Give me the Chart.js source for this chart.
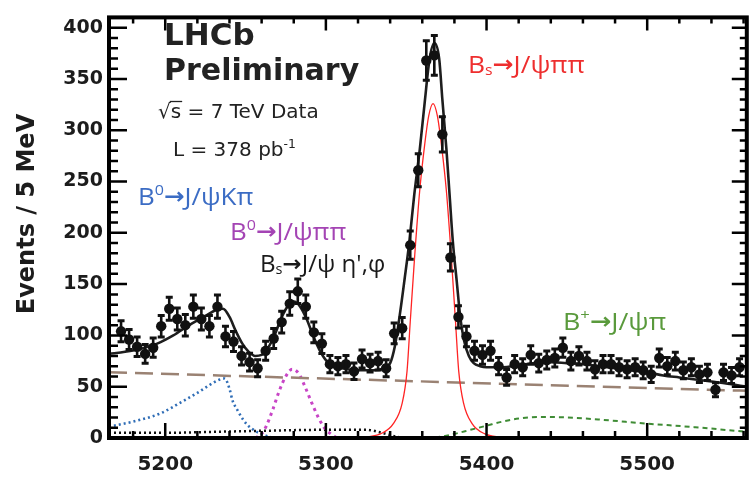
<!DOCTYPE html>
<html>
<head>
<meta charset="utf-8">
<script src="https://cdn.jsdelivr.net/npm/chart.js@4.4.1/dist/chart.umd.min.js"></script>
<style>
  html, body { margin: 0; padding: 0; background: #fff; }
</style>
</head>
<body>
<canvas id="myChart" width="752" height="480"></canvas>
<script>
// bin centres (MeV) and events per 5 MeV bin
const massBins = [
  5172.5, 5177.5, 5182.5, 5187.5, 5192.5, 5197.5, 5202.5, 5207.5, 5212.5, 5217.5,
  5222.5, 5227.5, 5232.5, 5237.5, 5242.5, 5247.5, 5252.5, 5257.5, 5262.5, 5267.5,
  5272.5, 5277.5, 5282.5, 5287.5, 5292.5, 5297.5, 5302.5, 5307.5, 5312.5, 5317.5,
  5322.5, 5327.5, 5332.5, 5337.5, 5342.5, 5347.5, 5352.5, 5357.5, 5362.5, 5367.5,
  5372.5, 5377.5, 5382.5, 5387.5, 5392.5, 5397.5, 5402.5, 5407.5, 5412.5, 5417.5,
  5422.5, 5427.5, 5432.5, 5437.5, 5442.5, 5447.5, 5452.5, 5457.5, 5462.5, 5467.5,
  5472.5, 5477.5, 5482.5, 5487.5, 5492.5, 5497.5, 5502.5, 5507.5, 5512.5, 5517.5,
  5522.5, 5527.5, 5532.5, 5537.5, 5542.5, 5547.5, 5552.5, 5557.5
];
const events = [
  104, 96, 89, 82, 88, 109, 126, 116, 110, 128,
  116, 109, 128, 99, 94, 80, 74, 68, 85, 97,
  113, 131, 143, 128, 103, 92, 72, 70, 72, 65,
  77, 73, 75, 68, 102, 107, 188, 261, 368, 373,
  296, 176, 118, 99, 85, 81, 85, 70, 59, 72,
  69, 81, 73, 76, 78, 88, 75, 80, 75, 67,
  72, 72, 69, 67, 69, 66, 62, 78, 70, 75,
  66, 69, 62, 64, 47, 64, 61, 69
];

// total fit
const fitMass = [5165, 5175, 5185, 5195, 5205, 5215, 5225, 5232, 5236, 5240, 5244, 5248, 5252, 5256, 5260,
  5264, 5268, 5272, 5276, 5280, 5284, 5288, 5292, 5296, 5300, 5305, 5310, 5320, 5330, 5336, 5340, 5343,
  5346, 5349, 5352, 5355, 5358.5, 5361.5, 5364.5, 5367.5, 5370.5, 5372.5, 5375, 5377, 5379, 5381.5,
  5383.5, 5386, 5389, 5392, 5396, 5400, 5410, 5420, 5430, 5440, 5450, 5460, 5470, 5480, 5490, 5500,
  5510, 5520, 5530, 5540, 5550, 5562];
const fitTotal = [82, 84, 87, 92, 100, 110, 119, 125, 126, 118, 104, 92, 84, 80, 81,
  88, 100, 116, 128, 133, 128, 116, 100, 86, 76, 70, 68, 66, 66, 68, 73, 90,
  120, 155, 192, 237, 282, 327, 369, 385, 370, 330, 282, 237, 192, 152,
  120, 95, 80, 73, 70, 69, 69, 71, 73, 74, 73, 72, 70, 68, 66, 64,
  61, 59, 57, 55, 53, 50];

// combinatorial background
const bkgMass = [5165, 5562];
const bkgVals = [64, 46];

// Bs -> J/psi pi pi
const bsMass = [5326, 5334, 5342, 5347.5, 5350.5, 5352.5, 5355.3, 5358.4, 5361.5, 5364, 5366.7, 5369.4,
  5371.9, 5375, 5378, 5380.7, 5382.7, 5385.7, 5391, 5399, 5408, 5420];
const bsVals = [1, 4, 14, 34, 65, 113, 178, 241, 286, 314, 326, 314, 286, 241, 178, 113, 65, 34, 14, 4, 1, 0];

// B0 -> J/psi K pi
const kpiMass = [5165, 5180, 5197, 5210, 5220, 5228, 5234, 5237, 5240, 5242, 5245, 5248, 5251, 5254, 5257, 5260, 5265, 5270];
const kpiVals = [11, 16, 24, 35, 44, 52, 57, 58, 48, 36, 27, 19, 13, 9, 6, 4, 1, 0];

// B0 -> J/psi pi pi
const b0Mass = [5256, 5260, 5263, 5267, 5271, 5275, 5279, 5283, 5287, 5291, 5295, 5299, 5303, 5307];
const b0Vals = [0, 4, 12, 28, 46, 60, 67, 63, 50, 35, 21, 10, 4, 0];

// Bs -> J/psi eta', phi
const etaMass = [5165, 5200, 5230, 5260, 5300, 5325, 5335, 5345, 5355];
const etaVals = [5, 5, 6, 7, 8, 8, 5, 1, 0];

// B+ -> J/psi pi
const bpMass = [5340, 5370, 5380, 5390, 5400, 5410, 5420, 5432, 5450, 5470, 5500, 5530, 5562];
const bpVals = [0, 1, 4, 8, 12, 16, 19, 20.5, 20, 18, 14, 10.5, 6];

const xTickLabels = [5200, 5300, 5400, 5500];
const yTickLabels = [0, 50, 100, 150, 200, 250, 300, 350, 400];

function pts(xs, ys) {
  return xs.map((x, i) => ({ x: x, y: ys[i] }));
}

function curve(label, xs, ys, color, width, dash, order) {
  return {
    label: label,
    data: pts(xs, ys),
    showLine: true,
    borderColor: color,
    borderWidth: width,
    borderDash: dash,
    pointRadius: 0,
    cubicInterpolationMode: 'monotone',
    order: order
  };
}

const ink = '#1c1c1c';

// draws text runs: 0 normal, 1 superscript, -1 subscript, 2 bold arrow
// sx stretches the run horizontally like the original picture
function drawRich(ctx, x, y, parts, size, family, color, sx) {
  ctx.save();
  ctx.translate(x, y);
  ctx.scale(sx || 1, 1);
  ctx.fillStyle = color;
  ctx.textBaseline = 'alphabetic';
  ctx.textAlign = 'left';
  let cx = 0;
  for (const [txt, mode] of parts) {
    let s = size, dy = 0, f = s + 'px ' + family;
    if (mode === 1) { s = size * 0.62; dy = -size * 0.42; f = s + 'px ' + family; }
    if (mode === -1) { s = size * 0.6; dy = size * 0.1; f = s + 'px ' + family; }
    if (mode === 2) { f = "bold " + (size * 0.95) + "px 'DejaVu Sans'"; dy = -1; }
    ctx.font = f;
    ctx.fillText(txt, cx, dy);
    cx += ctx.measureText(txt).width;
  }
  ctx.restore();
}

const framePlugin = {
  id: 'frame',
  afterDatasetsDraw(chart) {
    const ctx = chart.ctx;
    const ys = chart.scales.y;
    const meta = chart.getDatasetMeta(0);
    ctx.save();
    ctx.strokeStyle = '#111';
    meta.data.forEach((p, i) => {
      const v = events[i];
      const e = Math.sqrt(v);
      const y1 = ys.getPixelForValue(v + e), y2 = ys.getPixelForValue(v - e);
      ctx.lineWidth = 2.6;
      ctx.beginPath();
      ctx.moveTo(p.x, y1); ctx.lineTo(p.x, y2);
      ctx.stroke();
      ctx.lineWidth = 3;
      ctx.beginPath();
      ctx.moveTo(p.x - 3.5, y1); ctx.lineTo(p.x + 3.5, y1);
      ctx.moveTo(p.x - 3.5, y2); ctx.lineTo(p.x + 3.5, y2);
      ctx.stroke();
    });
    ctx.restore();
  },
  afterDraw(chart) {
    const ctx = chart.ctx;
    const a = chart.chartArea;
    const xs = chart.scales.x, ys = chart.scales.y;
    ctx.save();
    ctx.strokeStyle = '#000';
    // inward ticks
    ctx.lineWidth = 2.5;
    ctx.beginPath();
    for (let v = 0; v <= 410; v += 10) {
      const y = ys.getPixelForValue(v);
      const big = v % 50 === 0;
      ctx.moveTo(a.left, y); ctx.lineTo(a.left + (big ? 18 : 9), y);
      ctx.moveTo(a.right, y); ctx.lineTo(a.right - (big ? 15 : 7), y);
    }
    for (let m = 5180; m <= 5560; m += 20) {
      const x = xs.getPixelForValue(m);
      const big = m % 100 === 0;
      ctx.moveTo(x, a.bottom); ctx.lineTo(x, a.bottom - (big ? 15 : 7));
      ctx.moveTo(x, a.top); ctx.lineTo(x, a.top + (big ? 13 : 6));
    }
    ctx.stroke();
    // frame
    ctx.lineWidth = 4;
    ctx.strokeRect(a.left, a.top, a.right - a.left, a.bottom - a.top);

    // y title
    ctx.save();
    ctx.translate(28, 214);
    ctx.rotate(-Math.PI / 2);
    ctx.fillStyle = ink;
    ctx.font = "bold 24px 'DejaVu Sans'";
    ctx.textAlign = 'center';
    ctx.textBaseline = 'middle';
    ctx.fillText('Events / 5 MeV', 0, 0);
    ctx.restore();

    // experiment labels
    ctx.fillStyle = '#222';
    ctx.textAlign = 'left';
    ctx.textBaseline = 'alphabetic';
    ctx.font = "bold 31px 'DejaVu Sans'";
    ctx.fillText('LHCb', 164, 45);
    ctx.font = "bold 30px 'DejaVu Sans'";
    ctx.fillText('Preliminary', 164, 80);
    ctx.font = "20px 'DejaVu Sans'";
    ctx.fillText('\u221As = 7 TeV Data', 158, 118);
    const rw = ctx.measureText('\u221A').width;
    const sw = ctx.measureText('s').width;
    ctx.lineWidth = 1.3;
    ctx.strokeStyle = '#222';
    ctx.beginPath();
    ctx.moveTo(158 + rw - 1, 101.5); ctx.lineTo(158 + rw + sw + 1, 101.5);
    ctx.stroke();
    drawRich(ctx, 173, 156, [['L = 378 pb', 0], ['-1', 1]], 20, "'DejaVu Sans'", '#222', 1);

    // decay labels
    const fam = "'Open Sans'";
    drawRich(ctx, 138, 205, [['B', 0], ['0', 1], ['\u2192', 2], ['J/\u03C8K\u03C0', 0]], 24, fam, '#3b6cc4', 1.08);
    drawRich(ctx, 230, 240, [['B', 0], ['0', 1], ['\u2192', 2], ['J/\u03C8\u03C0\u03C0', 0]], 24, fam, '#a444b4', 1.08);
    drawRich(ctx, 260, 272, [['B', 0], ['s', -1], ['\u2192', 2], ['J/\u03C8 \u03B7\',\u03C6', 0]], 23, fam, '#1a1a1a', 1.05);
    drawRich(ctx, 468, 73, [['B', 0], ['s', -1], ['\u2192', 2], ['J/\u03C8\u03C0\u03C0', 0]], 24, fam, '#ee2e2e', 1.1);
    drawRich(ctx, 563, 330, [['B', 0], ['+', 1], ['\u2192', 2], ['J/\u03C8\u03C0', 0]], 24, fam, '#5a9a3c', 1.12);
    ctx.restore();
  }
};

const ctx = document.getElementById('myChart');

new Chart(ctx, {
  type: 'scatter',
  data: {
    datasets: [
      {
        label: 'Data',
        data: pts(massBins, events),
        showLine: false,
        pointRadius: 5.2,
        pointBackgroundColor: '#111',
        pointBorderWidth: 0,
        order: 0
      },
      curve('Fit', fitMass, fitTotal, '#1e1e1e', 2.6, [], 1),
      curve('Bs->J/psi pi pi', bsMass, bsVals, '#ff2424', 1.3, [], 2),
      curve('Background', bkgMass, bkgVals, '#9a8273', 2.5, [18, 8], 3),
      curve('B0->J/psi K pi', kpiMass, kpiVals, '#2f6db6', 2.6, [2, 3], 4),
      curve('B0->J/psi pi pi', b0Mass, b0Vals, '#c845c6', 3, [3, 4], 5),
      curve('Bs->J/psi eta, phi', etaMass, etaVals, '#111', 2.5, [2, 3], 6),
      curve('B+->J/psi pi', bpMass, bpVals, '#3f8c35', 2, [5, 4], 7)
    ]
  },
  options: {
    responsive: false,
    animation: false,
    layout: { padding: { top: 10.5, right: 2.5, left: 0, bottom: 0 } },
    plugins: {
      legend: { display: false },
      tooltip: { enabled: false }
    },
    scales: {
      x: {
        type: 'linear',
        min: 5165,
        max: 5562,
        grid: { display: false, drawTicks: false },
        border: { display: false },
        afterBuildTicks: s => { s.ticks = xTickLabels.map(v => ({ value: v })); },
        afterFit: s => { s.height = 42; },
        ticks: {
          font: { family: "'DejaVu Sans'", size: 20, weight: 'bold' },
          color: ink, padding: 15, maxRotation: 0, autoSkip: false,
          callback: v => String(v)
        }
      },
      y: {
        min: 0,
        max: 410,
        grid: { display: false, drawTicks: false },
        border: { display: false },
        afterBuildTicks: s => { s.ticks = yTickLabels.map(v => ({ value: v })); },
        afterFit: s => { s.width = 109; },
        ticks: {
          font: { family: "'DejaVu Sans'", size: 19, weight: 'bold' },
          color: ink, padding: 6, autoSkip: false,
          callback: v => String(v)
        }
      }
    }
  },
  plugins: [framePlugin]
});
</script>
</body>
</html>
